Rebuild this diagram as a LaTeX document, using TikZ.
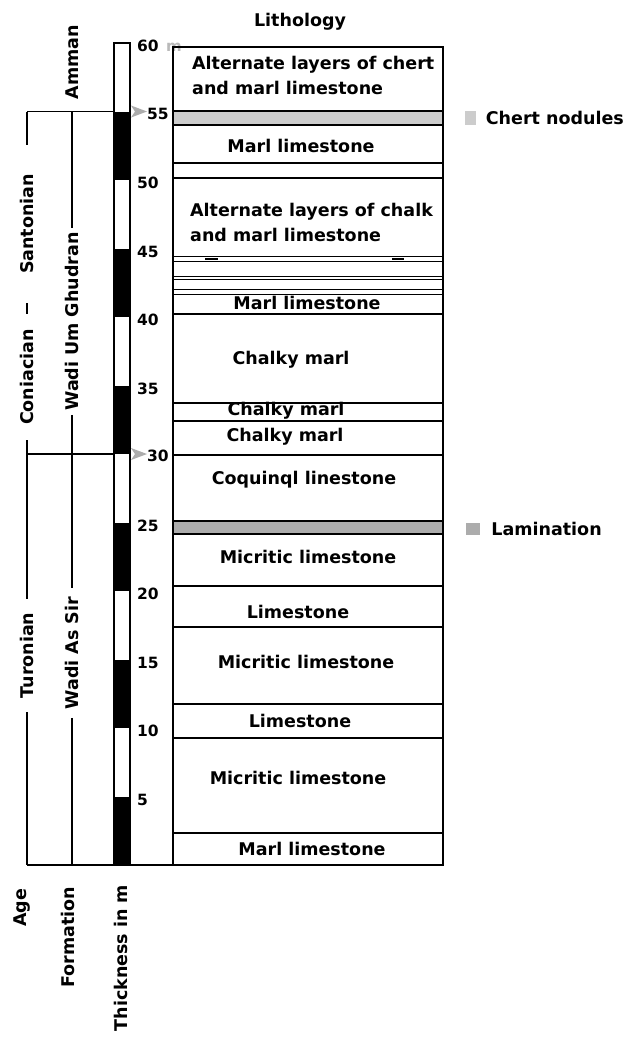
\documentclass[tikz,border=0pt]{standalone}
\usepackage{fontspec}
\setmainfont{DejaVu Sans}
\usetikzlibrary{positioning}
\newcommand{\litfont}{\fontsize{17.5}{25}\selectfont\bfseries}
\newcommand{\tickfont}{\fontsize{15.5}{18}\selectfont\bfseries}
\tikzset{
  frame/.style={
    draw,
    line width=1.2pt
  },
  thinbed/.style={
    draw,
    line width=0.9pt
  },
  layertext/.style={
    font=\litfont,
    inner sep=0pt
  },
  sidetext/.style={
    font=\litfont,
    rotate=90,
    inner ysep=0pt
  },
  ticktext/.style={
    font=\tickfont,
    anchor=west,
    inner sep=0pt
  },
  keybox/.style={
    draw=none,
    minimum width=11pt,
    minimum height=14pt,
    inner sep=0pt
  },
  marker/.style={
    fill=gray!65,
    draw=none
  },
  declare function={ym(\m)=865-13.7*\m;}
}

\begin{document}
\begin{tikzpicture}[x=1pt, y=-1pt]
  \useasboundingbox[fill=white] (0,0) rectangle (629,1037);

  % thickness bar
  \foreach \m in {0,10,...,50}
    \fill (114,{ym(\m)}) rectangle (130,{ym(\m+5)});
  \draw[frame] (114,{ym(60)}) rectangle (130,{ym(0)});
  \foreach \m in {60,50,45,40,35,25,20,15,10,5}
    \node[ticktext] (tick\m) at (137,{ym(\m)+3}) {\m};
  \node[ticktext] (tick55) at (147,{ym(55)+2}) {55};
  \node[ticktext] (tick30) at (147,{ym(30)+2}) {30};
  \node[ticktext, text=gray!55, font=\fontsize{15}{17}\selectfont\bfseries] (unit) at (166,47) {m};
  \fill[marker] (131,{ym(55)-6}) -- (147,{ym(55)}) -- (131,{ym(55)+6}) -- (135,{ym(55)}) -- cycle;
  \fill[marker] (131,{ym(30)-6}) -- (147,{ym(30)}) -- (131,{ym(30)+6}) -- (135,{ym(30)}) -- cycle;

  % lithology column
  \node[layertext] (lithology) at (300,22) {Lithology};
  \fill[gray!40] (173,111) rectangle (443,125);
  \fill[gray!65] (173,521) rectangle (443,534);
  \draw[frame] (173,47) rectangle (443,865);
  \foreach \y in {111,125,163,178,314,403,421,455,521,534,586,627,704,738,833}
    \draw[frame] (173,\y) -- (443,\y);
  \foreach \y in {256,261,276,279,289,294}
    \draw[thinbed] (173,\y) -- (443,\y);
  \draw[line width=1.6pt] (205,259) -- (218,259);
  \draw[line width=1.6pt] (392,259) -- (404,259);

  \node[layertext, anchor=west, align=left] (chertbeds) at (192,75) {Alternate layers of chert\\and marl limestone};
  \node[layertext] (marl1) at (301,146) {Marl limestone};
  \node[layertext, anchor=west, align=left] (chalkbeds) at (190,222) {Alternate layers of chalk\\and marl limestone};
  \node[layertext] (marl2) at (307,303) {Marl limestone};
  \node[layertext] (chalky1) at (291,360) {Chalky marl};
  \node[layertext] (chalky2) at (286,411) {Chalky marl};
  \node[layertext] (chalky3) at (285,437) {Chalky marl};
  \node[layertext] (coquina) at (304,480) {Coquinql linestone};
  \node[layertext] (micrite1) at (308,557) {Micritic limestone};
  \node[layertext] (lime1) at (298,612) {Limestone};
  \node[layertext] (micrite2) at (306,662) {Micritic limestone};
  \node[layertext] (lime2) at (300,721) {Limestone};
  \node[layertext] (micrite3) at (298,778) {Micritic limestone};
  \node[layertext] (marl3) at (312,849) {Marl limestone};

  % legend
  \node[keybox, fill=gray!40] (chertkey) at (470,118) {};
  \node[layertext, right=10pt of chertkey] (chertname) {Chert nodules};
  \node[keybox, fill=gray!65, minimum width=14pt, minimum height=12pt] (lamkey) at (473,529) {};
  \node[layertext, right=11pt of lamkey] (lamname) {Lamination};

  % age and formation columns
  \coordinate (agetop) at (27,{ym(55)});
  \coordinate (agebase) at (27,{ym(30)});
  \coordinate (agebottom) at (27,865);
  \node[sidetext, inner xsep=29pt] (santonian) at (27,224) {Santonian};
  \node[sidetext, inner xsep=15pt] (coniacian) at (27,377) {Coniacian};
  \node[sidetext, inner xsep=13.5pt] (turonian) at (27,655.5) {Turonian};
  \draw[frame] (agetop) -- (santonian);
  \draw[frame] (santonian) -- (coniacian);
  \draw[frame] (coniacian) -- (turonian);
  \draw[frame] (turonian) -- (agebottom);
  \draw[frame] (agetop) -- (114,{ym(55)});
  \draw[frame] (agebase) -- (114,{ym(30)});
  \draw[frame] (agebottom) -- (443,865);

  \coordinate (formtop) at (72,{ym(55)});
  \coordinate (formbottom) at (72,865);
  \node[sidetext] (amman) at (72,62) {Amman};
  \node[sidetext, inner xsep=4pt] (umghudran) at (72,321.5) {Wadi Um Ghudran};
  \node[sidetext, inner xsep=8.5pt] (assir) at (72,653) {Wadi As Sir};
  \draw[frame] (formtop) -- (umghudran);
  \draw[frame] (umghudran) -- (assir);
  \draw[frame] (assir) -- (formbottom);

  % column heads
  \node[sidetext] (agehead) at (22,908) {Age};
  \node[sidetext] (formhead) at (68,937) {Formation};
  \node[sidetext] (thickhead) at (121,958) {Thickness in m};
\end{tikzpicture}
\end{document}
